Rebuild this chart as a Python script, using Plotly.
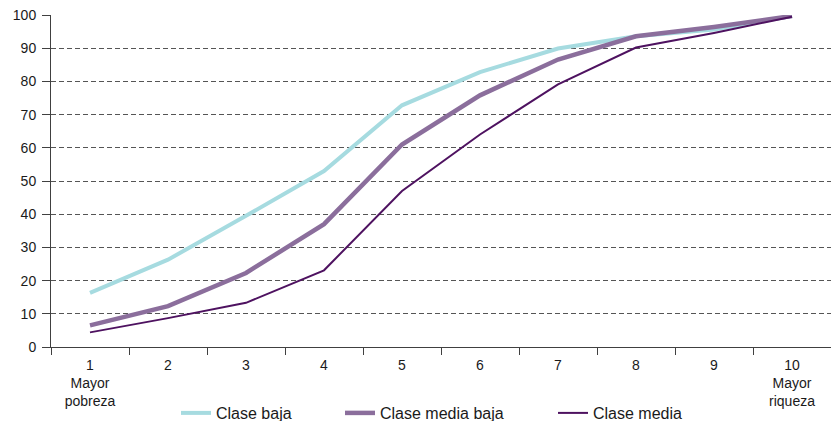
import plotly.graph_objects as go

deciles = ["1<br>Mayor<br>pobreza", "2", "3", "4", "5", "6", "7", "8", "9", "10<br>Mayor<br>riqueza"]
clase_baja = [16.3, 26.3, 39.5, 53.0, 72.8, 82.8, 89.9, 93.6, 95.6, 99.7]
clase_media_baja = [6.5, 12.3, 22.3, 37.0, 61.0, 75.8, 86.6, 93.6, 96.4, 99.7]
clase_media = [4.4, 8.7, 13.3, 23.1, 47.0, 64.0, 79.1, 90.2, 94.6, 99.5]

series = [
    ("Clase baja", clase_baja, "#A6DBE0", 4, "legend"),
    ("Clase media baja", clase_media_baja, "#8B6E9C", 4.5, "legend2"),
    ("Clase media", clase_media, "#4E1260", 2, "legend3"),
]

fig = go.Figure()
for name, vals, color, w, lg in series:
    fig.add_trace(go.Scatter(x=deciles, y=vals, name=name, mode="lines",
                             line=dict(color=color, width=w), legend=lg))

FONT = "Liberation Sans, Arial, sans-serif"
leg_common = dict(orientation="h", xref="container", yref="container",
                  xanchor="left", yanchor="top", y=1 - 396 / 421,
                  font=dict(family=FONT, size=16, color="#1a1a1a"),
                  bgcolor="rgba(0,0,0,0)", borderwidth=0)

fig.update_layout(
    width=831, height=421,
    margin=dict(l=51, r=0, t=15, b=74, pad=0, autoexpand=False),
    paper_bgcolor="white", plot_bgcolor="white",
    font=dict(family=FONT, size=14, color="#1a1a1a"),
    showlegend=True,
    legend=dict(**leg_common, x=(186 - 10) / 831),
    legend2=dict(**leg_common, x=(350 - 10) / 831),
    legend3=dict(**leg_common, x=(563 - 10) / 831),
    xaxis=dict(type="category", tickson="boundaries", range=[-0.5, 9.5],
               automargin=False,
               showgrid=False, showline=True, linecolor="#404040", linewidth=1,
               ticks="outside", ticklen=7, tickcolor="#404040",
               ticklabelstandoff=5,
               tickfont=dict(family=FONT, size=14, color="#1a1a1a")),
    yaxis=dict(range=[0, 100], dtick=10, tick0=0, automargin=False,
               showgrid=True, gridcolor="#555555", gridwidth=1, griddash="5px,3px",
               zeroline=False, showline=True, linecolor="#404040", linewidth=1,
               ticks="outside", ticklen=8, tickcolor="#404040",
               ticklabelstandoff=3,
               tickfont=dict(family=FONT, size=14, color="#1a1a1a")),
)

fig.write_html("out.html", config={"displayModeBar": False},
               post_script="document.body.style.margin='0';document.body.style.overflow='hidden';")
